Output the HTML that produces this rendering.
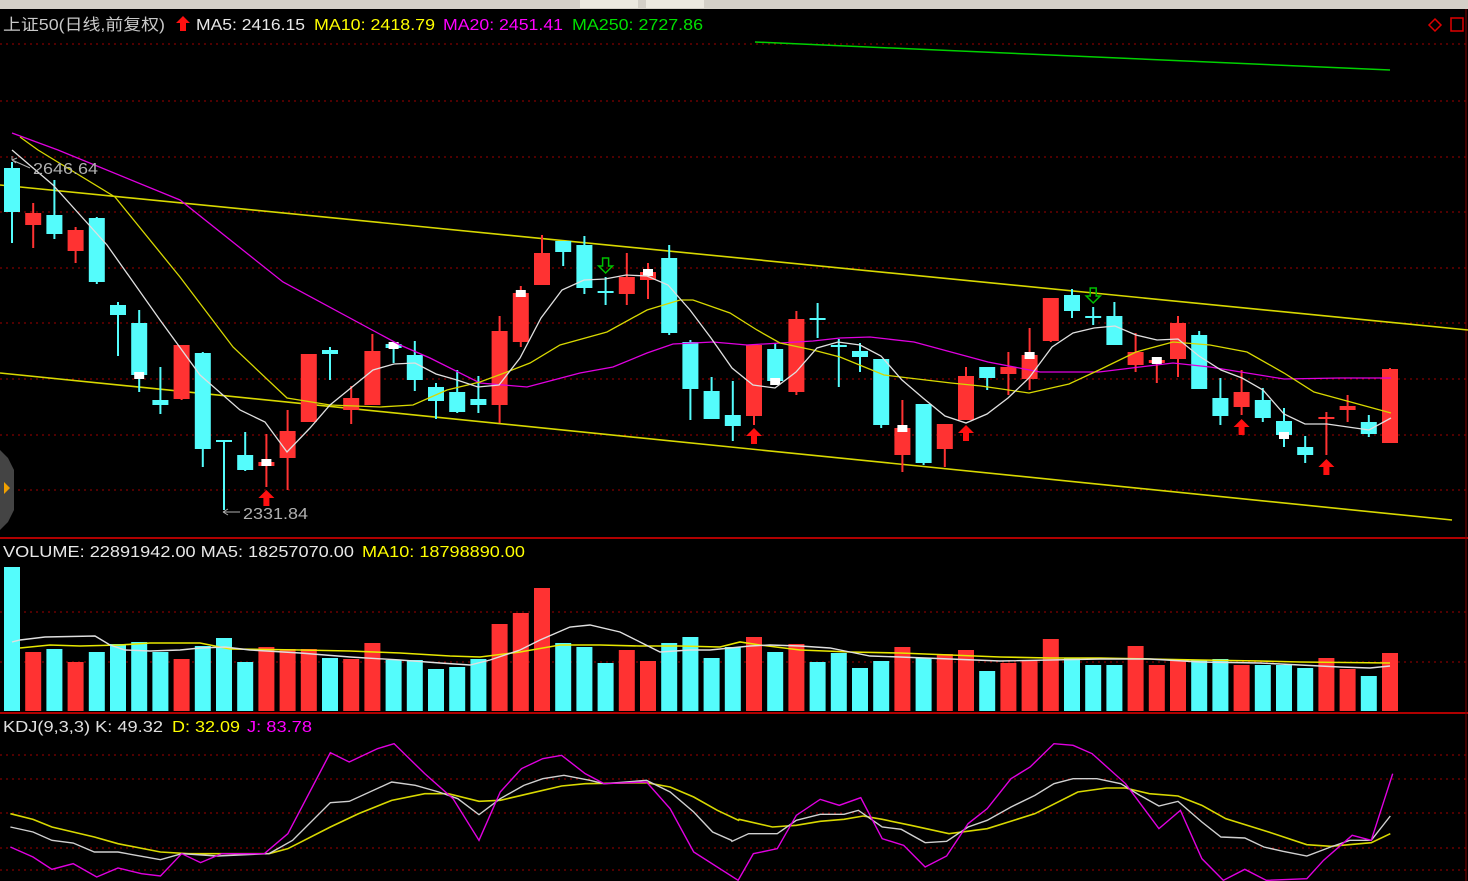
<!DOCTYPE html>
<html><head><meta charset="utf-8">
<style>
html,body{margin:0;padding:0;background:#000;}
#wrap{position:relative;width:1468px;height:881px;overflow:hidden;background:#000;}
svg{position:absolute;left:0;top:0;}
text{font-family:"Liberation Sans","Noto Sans CJK SC",sans-serif;font-size:16px;}
</style></head>
<body><div id="wrap">
<svg id="s" width="1468" height="881" viewBox="0 0 1468 881" xmlns="http://www.w3.org/2000/svg">
<rect x="0" y="0" width="1468" height="881" fill="#000"/>
<rect x="0" y="0" width="1468" height="9" fill="#d4d0c8"/>
<rect x="580" y="0" width="58" height="8" fill="#ece9e0"/>
<rect x="646" y="0" width="58" height="8" fill="#ece9e0"/>
<g id="grid" stroke="#a00000" stroke-width="1" stroke-dasharray="2,4"></g>
<line x1="0" y1="538" x2="1468" y2="538" stroke="#b00000" stroke-width="2"/>
<line x1="0" y1="713" x2="1468" y2="713" stroke="#b00000" stroke-width="2"/>
<line x1="1466" y1="9" x2="1466" y2="881" stroke="#800000" stroke-width="1"/>
<g id="g"></g>
<text x="3" y="30" fill="#c8c8c8" textLength="162" lengthAdjust="spacingAndGlyphs">上证50(日线,前复权)</text>
<polygon points="183,16 190,23 186,23 186,31 180,31 180,23 176,23" fill="#ff1010"/>
<text x="196" y="30" fill="#e8e8e8" textLength="109" lengthAdjust="spacingAndGlyphs">MA5: 2416.15</text>
<text x="314" y="30" fill="#ffff00" textLength="121" lengthAdjust="spacingAndGlyphs">MA10: 2418.79</text>
<text x="443" y="30" fill="#ff00ff" textLength="120" lengthAdjust="spacingAndGlyphs">MA20: 2451.41</text>
<text x="572" y="30" fill="#00e000" textLength="131" lengthAdjust="spacingAndGlyphs">MA250: 2727.86</text>
<polygon points="1435,19 1441,25 1435,31 1429,25" fill="none" stroke="#e00000" stroke-width="1.5"/>
<rect x="1451" y="18" width="12" height="13" fill="none" stroke="#e00000" stroke-width="1.5"/>
<text x="3" y="557" fill="#e8e8e8" textLength="351" lengthAdjust="spacingAndGlyphs">VOLUME: 22891942.00 MA5: 18257070.00</text>
<text x="362" y="557" fill="#ffff00" textLength="163" lengthAdjust="spacingAndGlyphs">MA10: 18798890.00</text>
<text x="3" y="732" fill="#e0e0e0" textLength="160" lengthAdjust="spacingAndGlyphs">KDJ(9,3,3) K: 49.32</text>
<text x="172" y="732" fill="#ffff00" textLength="68" lengthAdjust="spacingAndGlyphs">D: 32.09</text>
<text x="247" y="732" fill="#ff00ff" textLength="65" lengthAdjust="spacingAndGlyphs">J: 83.78</text>
<text x="33" y="174" fill="#b0b0b0" textLength="65" lengthAdjust="spacingAndGlyphs">2646.64</text>
<text x="243" y="519" fill="#b0b0b0" textLength="65" lengthAdjust="spacingAndGlyphs">2331.84</text>
<path d="M12,160 L12,156 M12,160 L30,168 M12,160 l5,-2 M12,160 l4,3" stroke="#b0b0b0" fill="none"/>
<path d="M223,512 L240,512 M223,512 l5,-3 M223,512 l5,3" stroke="#b0b0b0" fill="none"/>
<polygon points="0,450 8,458 14,470 14,510 8,522 0,530" fill="#444"/>
<polygon points="4,482 10,488 4,494" fill="#f0a000"/>
</svg>
<script>
const NS="http://www.w3.org/2000/svg";
const g=document.getElementById('g'),gr=document.getElementById('grid');
function el(t,a,p){const e=document.createElementNS(NS,t);for(const k in a)e.setAttribute(k,a[k]);(p||g).appendChild(e);return e;}
[44,101,157,212,268,323,379,435,490,612,662,755,779,813,848,870].forEach(y=>el('line',{x1:0,y1:y,x2:1468,y2:y},gr));
el('line',{x1:0,y1:185,x2:1468,y2:330,stroke:'#d8d800','stroke-width':1.6});
el('line',{x1:0,y1:373,x2:1452,y2:520,stroke:'#d8d800','stroke-width':1.6});
el('line',{x1:755,y1:42,x2:1390,y2:70,stroke:'#00d000','stroke-width':1.5});
const C='#54fcfc',R='#ff3232';
const d=[['c',168,212,162,243],['r',213,225,203,248],['c',215,234,180,239],['r',230,251,227,263],['c',218,282,217,284],['c',305,315,302,356],['c',323,375,310,392],['c',400,405,367,414],['r',345,399,345,400],['c',353,449,352,467],['c',440,442,440,510],['c',455,470,432,471],['r',462,466,434,487],['r',431,458,410,490],['r',354,422,354,422],['c',350,354,347,380],['r',398,410,386,424],['r',351,405,334,405],['c',344,348,344,363],['c',355,380,341,391],['c',387,401,383,419],['c',392,412,370,413],['c',399,405,376,413],['r',331,405,316,423],['r',293,342,286,347],['r',253,285,235,285],['c',241,252,241,266],['c',245,288,236,294],['c',291,293,277,305],['r',277,294,253,305],['r',272,280,263,299],['c',258,333,245,335],['c',342,389,340,420],['c',391,419,377,419],['c',415,426,381,441],['r',345,416,345,425],['c',349,381,343,381],['r',319,392,311,395],['c',318,320,303,338],['c',345,347,339,387],
['c',351,357,343,372],['c',359,425,359,428],['r',428,455,400,472],['c',404,463,404,465],['r',424,449,424,467],['r',376,420,367,420],['c',367,378,367,390],['r',367,374,352,395],['r',355,379,328,390],['r',298,341,298,342],['c',295,311,289,318],['c',316,318,307,325],['c',316,345,302,345],['r',352,365,333,372],['r',360,363,360,383],['r',323,359,316,377],['c',335,389,331,389],['c',398,416,378,425],['r',392,407,370,415],['c',400,418,388,422],['c',421,435,408,447],['c',447,455,436,463],['r',417,419,412,455],['r',406,410,395,422],['c',422,434,415,437],['r',369,443,368,443]];
const X=i=>12+21.2*i;
d.forEach((c,i)=>{const x=X(i),col=c[0]=='c'?C:R;
 el('line',{x1:x,y1:c[3],x2:x,y2:c[4],stroke:col,'stroke-width':2});
 el('rect',{x:x-8,y:c[1],width:16,height:Math.max(2,c[2]-c[1]),fill:col});});
const wb={6:375,12:462,18:345,24:293,30:272,36:381,42:428,48:355,54:360,60:435};
for(const k in wb)el('rect',{x:X(+k)-5,y:wb[k]-3,width:10,height:7,fill:'#fff'});
function up(x,y){el('polygon',{points:`${x},${y} ${x+8},${y+8} ${x+3},${y+8} ${x+3},${y+16} ${x-3},${y+16} ${x-3},${y+8} ${x-8},${y+8}`,fill:'#ff1010'});}
up(X(12),490);up(X(35),428);up(X(45),425);up(X(58),419);up(X(62),459);
function dn(x,y){el('polygon',{points:`${x-3},${y} ${x+3},${y} ${x+3},${y+8} ${x+7},${y+8} ${x},${y+15} ${x-7},${y+8} ${x-3},${y+8}`,fill:'none',stroke:'#00c000','stroke-width':1.5});}
dn(X(28),258);dn(X(51),288);
function pl(pts,col,w){el('polyline',{points:pts.map(p=>p.join(',')).join(' '),fill:'none',stroke:col,'stroke-width':w||1.3});}
pl([[12,133],[58,150],[180,200],[283,282],[400,345],[430,358],[480,383],[527,387],[580,373],[613,367],[647,353],[673,344],[713,342],[747,345],[813,341],[840,338],[870,337],[914,342],[988,362],[1040,372],[1099,372],[1173,363],[1210,367],[1284,379],[1339,378],[1391,378]],'#e000e0');
pl([[20,137],[38,150],[115,197],[180,277],[233,347],[287,398],[330,405],[380,407],[413,405],[447,390],[480,382],[507,372],[530,363],[560,345],[607,332],[647,310],[680,300],[693,300],[730,313],[757,330],[780,343],[813,350],[840,357],[884,375],[951,383],[981,386],[1029,393],[1069,384],[1099,370],[1136,352],[1173,342],[1210,345],[1247,352],[1284,373],[1314,392],[1358,404],[1391,413]],'#d8d800');
pl([[12,150],[53,185],[107,245],[160,320],[200,375],[240,410],[265,422],[287,452],[310,428],[330,405],[373,370],[394,364],[415,363],[436,374],[457,380],[478,387],[499,385],[520,358],[541,318],[562,290],[584,280],[605,279],[626,275],[647,276],[668,285],[690,310],[711,338],[732,368],[753,385],[775,388],[796,372],[817,348],[838,342],[860,345],[881,356],[902,380],[923,398],[945,416],[966,423],[987,414],[1008,398],[1029,378],[1052,347],[1073,333],[1094,328],[1115,326],[1136,335],[1157,340],[1178,339],[1199,356],[1221,370],[1242,378],[1263,390],[1284,414],[1305,424],[1327,424],[1348,427],[1369,430],[1391,418]],'#e0e0e0');
const v=[567,652,649,662,652,644,642,652,659,646,638,662,647,649,649,658,659,643,660,660,669,667,659,624,613,588,643,647,663,650,661,643,637,658,647,637,652,644,662,653,668,661,647,658,654,650,671,663,660,639,658,665,665,646,665,661,660,659,665,665,665,668,658,669,676,653];
v.forEach((t,i)=>{el('rect',{x:X(i)-8,y:t,width:16,height:711-t,fill:d[i][0]=='c'?C:R});});
pl([[20,648],[50,645],[80,646],[120,645],[150,643],[200,643],[230,649],[300,650],[350,651],[400,653],[450,656],[480,657],[520,652],[560,645],[600,645],[640,646],[680,646],[720,647],[740,642],[760,645],[800,650],[850,652],[900,653],[950,655],[1000,657],[1050,658],[1100,658],[1150,659],[1200,660],[1260,661],[1300,662],[1390,663]],'#e8e800',1.6);
pl([[12,642],[20,640],[45,637],[95,636],[110,645],[125,650],[150,651],[180,650],[200,648],[225,647],[250,650],[300,653],[350,657],[400,660],[440,663],[470,665],[490,660],[520,650],[540,640],[570,627],[590,625],[620,632],[640,642],[660,652],[690,650],[710,650],[750,646],[770,645],[800,646],[830,648],[850,652],[870,656],[900,657],[1000,661],[1100,659],[1150,659],[1200,662],[1260,663],[1300,665],[1340,667],[1370,668],[1390,666]],'#e0e0e0',1.4);
function cv(a,sx,ox){return a.map(p=>[ox+p[0]/sx,712+p[1]/3]);}
const J1=[[22,405],[70,435],[110,472],[155,455],[205,495],[250,468],[300,485],[340,492],[385,425],[425,452],[470,425],[560,425],[610,365],[700,122],[740,150],[800,110],[835,95],[900,185],[960,260],[1015,385],[1060,240],[1105,170],[1150,140],[1190,130],[1240,185],[1280,215],[1370,210],[1420,290],[1470,420],[1510,505]];
const J2=[[38,505],[70,425],[120,410],[160,310],[210,262],[250,280],[295,257],[340,380],[385,400],[430,465],[475,432],[520,335],[560,290],[610,200],[650,165],[700,95],[740,100],[780,125],[850,215],[920,350],[965,295],[1010,440],[1055,505],[1100,472],[1145,505],[1230,500],[1265,445],[1325,370],[1365,385],[1410,185]];
const K1=[[22,345],[70,360],[110,385],[155,393],[200,420],[250,420],[300,433],[340,443],[385,425],[460,432],[570,425],[620,385],[700,272],[740,268],[830,210],[880,220],[930,240],[970,260],[1015,308],[1060,260],[1110,220],[1150,200],[1195,190],[1250,205],[1280,215],[1370,205],[1420,240],[1470,300],[1510,360],[1550,385]];
const K2=[[25,388],[60,365],[120,365],[160,325],[210,307],[260,307],[290,295],[340,345],[380,352],[430,392],[475,388],[520,345],[560,325],[610,285],[660,250],[700,215],[740,200],[790,200],[840,215],[880,250],[920,282],[960,268],[1010,330],[1050,375],[1100,378],[1140,405],[1180,418],[1230,432],[1280,405],[1320,385],[1365,385],[1405,312]];
const D1=[[22,305],[70,322],[110,345],[200,375],[250,395],[340,420],[400,425],[570,425],[610,410],[700,345],[760,305],[830,265],[900,245],[950,245],[1015,268],[1060,265],[1120,245],[1190,222],[1240,215],[1370,212],[1420,225],[1470,255],[1520,295],[1565,325]];
const D2=[[40,322],[110,345],[160,340],[210,328],[260,322],[300,312],[340,322],[400,340],[480,365],[560,350],[660,305],[750,240],[810,228],[850,228],[900,245],[960,252],[1010,280],[1060,320],[1150,360],[1230,398],[1280,403],[1365,392],[1405,365]];
pl(cv(D1,2.119,0).concat(cv(D2,2.096,720)),'#d8d800',1.6);
pl(cv(K1,2.119,0).concat(cv(K2,2.096,720)),'#d0d0d0',1.4);
pl(cv(J1,2.119,0).filter(p=>p[0]<710).concat(cv(J2,2.096,720)),'#e000e0',1.4);
</script>
</div></body></html>
